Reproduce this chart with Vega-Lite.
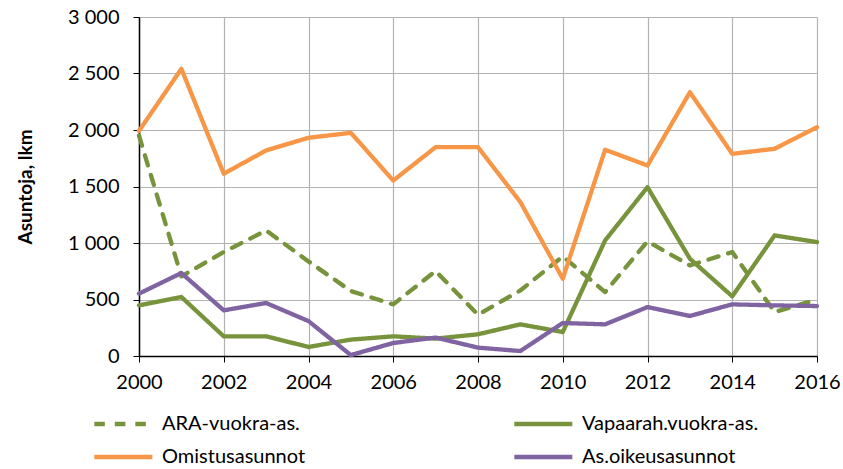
{
  "$schema": "https://vega.github.io/schema/vega-lite/v6.json",
  "width": 678,
  "height": 339,
  "autosize": "none",
  "padding": {"left": 139, "top": 17, "right": 26, "bottom": 113},
  "background": "white",
  "config": {
    "view": {"stroke": null},
    "font": "Lato"
  },
  "datasets": {
    "rows": [
      {"year": 2000, "series": "ARA-vuokra-as.", "value": 1950},
      {"year": 2001, "series": "ARA-vuokra-as.", "value": 705},
      {"year": 2002, "series": "ARA-vuokra-as.", "value": 920},
      {"year": 2003, "series": "ARA-vuokra-as.", "value": 1111},
      {"year": 2004, "series": "ARA-vuokra-as.", "value": 837},
      {"year": 2005, "series": "ARA-vuokra-as.", "value": 575},
      {"year": 2006, "series": "ARA-vuokra-as.", "value": 457},
      {"year": 2007, "series": "ARA-vuokra-as.", "value": 752},
      {"year": 2008, "series": "ARA-vuokra-as.", "value": 365},
      {"year": 2009, "series": "ARA-vuokra-as.", "value": 580},
      {"year": 2010, "series": "ARA-vuokra-as.", "value": 881},
      {"year": 2011, "series": "ARA-vuokra-as.", "value": 566},
      {"year": 2012, "series": "ARA-vuokra-as.", "value": 1014},
      {"year": 2013, "series": "ARA-vuokra-as.", "value": 802},
      {"year": 2014, "series": "ARA-vuokra-as.", "value": 920},
      {"year": 2015, "series": "ARA-vuokra-as.", "value": 389},
      {"year": 2016, "series": "ARA-vuokra-as.", "value": 499},
      {"year": 2000, "series": "Vapaarah.vuokra-as.", "value": 448},
      {"year": 2001, "series": "Vapaarah.vuokra-as.", "value": 522},
      {"year": 2002, "series": "Vapaarah.vuokra-as.", "value": 174},
      {"year": 2003, "series": "Vapaarah.vuokra-as.", "value": 174},
      {"year": 2004, "series": "Vapaarah.vuokra-as.", "value": 80},
      {"year": 2005, "series": "Vapaarah.vuokra-as.", "value": 145},
      {"year": 2006, "series": "Vapaarah.vuokra-as.", "value": 174},
      {"year": 2007, "series": "Vapaarah.vuokra-as.", "value": 154},
      {"year": 2008, "series": "Vapaarah.vuokra-as.", "value": 192},
      {"year": 2009, "series": "Vapaarah.vuokra-as.", "value": 280},
      {"year": 2010, "series": "Vapaarah.vuokra-as.", "value": 212},
      {"year": 2011, "series": "Vapaarah.vuokra-as.", "value": 1023},
      {"year": 2012, "series": "Vapaarah.vuokra-as.", "value": 1494},
      {"year": 2013, "series": "Vapaarah.vuokra-as.", "value": 861},
      {"year": 2014, "series": "Vapaarah.vuokra-as.", "value": 528},
      {"year": 2015, "series": "Vapaarah.vuokra-as.", "value": 1067},
      {"year": 2016, "series": "Vapaarah.vuokra-as.", "value": 1008},
      {"year": 2000, "series": "Omistusasunnot", "value": 1992},
      {"year": 2001, "series": "Omistusasunnot", "value": 2541},
      {"year": 2002, "series": "Omistusasunnot", "value": 1613},
      {"year": 2003, "series": "Omistusasunnot", "value": 1819},
      {"year": 2004, "series": "Omistusasunnot", "value": 1931},
      {"year": 2005, "series": "Omistusasunnot", "value": 1975},
      {"year": 2006, "series": "Omistusasunnot", "value": 1553},
      {"year": 2007, "series": "Omistusasunnot", "value": 1848},
      {"year": 2008, "series": "Omistusasunnot", "value": 1848},
      {"year": 2009, "series": "Omistusasunnot", "value": 1362},
      {"year": 2010, "series": "Omistusasunnot", "value": 684},
      {"year": 2011, "series": "Omistusasunnot", "value": 1825},
      {"year": 2012, "series": "Omistusasunnot", "value": 1686},
      {"year": 2013, "series": "Omistusasunnot", "value": 2334},
      {"year": 2014, "series": "Omistusasunnot", "value": 1789},
      {"year": 2015, "series": "Omistusasunnot", "value": 1834},
      {"year": 2016, "series": "Omistusasunnot", "value": 2025},
      {"year": 2000, "series": "As.oikeusasunnot", "value": 552},
      {"year": 2001, "series": "As.oikeusasunnot", "value": 734},
      {"year": 2002, "series": "As.oikeusasunnot", "value": 404},
      {"year": 2003, "series": "As.oikeusasunnot", "value": 469},
      {"year": 2004, "series": "As.oikeusasunnot", "value": 309},
      {"year": 2005, "series": "As.oikeusasunnot", "value": 8},
      {"year": 2006, "series": "As.oikeusasunnot", "value": 115},
      {"year": 2007, "series": "As.oikeusasunnot", "value": 163},
      {"year": 2008, "series": "As.oikeusasunnot", "value": 74},
      {"year": 2009, "series": "As.oikeusasunnot", "value": 44},
      {"year": 2010, "series": "As.oikeusasunnot", "value": 292},
      {"year": 2011, "series": "As.oikeusasunnot", "value": 280},
      {"year": 2012, "series": "As.oikeusasunnot", "value": 433},
      {"year": 2013, "series": "As.oikeusasunnot", "value": 354},
      {"year": 2014, "series": "As.oikeusasunnot", "value": 457},
      {"year": 2015, "series": "As.oikeusasunnot", "value": 448},
      {"year": 2016, "series": "As.oikeusasunnot", "value": 442}
    ]
  },
  "data": {"name": "rows"},
  "mark": {"type": "line", "strokeWidth": 4.3, "strokeCap": "round", "strokeJoin": "round", "clip": false},
  "encoding": {
    "x": {
      "field": "year",
      "type": "quantitative",
      "scale": {"domain": [2000, 2016], "nice": false, "zero": false},
      "axis": {
        "title": null,
        "values": [2000, 2002, 2004, 2006, 2008, 2010, 2012, 2014, 2016],
        "format": "d",
        "labelFont": "Lato",
        "labelFontSize": 20,
        "labelColor": "#000000",
        "labelPadding": 10,
        "tickSize": 6,
        "tickColor": "#000000",
        "domainColor": "#000000",
        "domainWidth": 1.5,
        "grid": true,
        "gridColor": "#b3b3b3",
        "gridWidth": 1.2,
        "labelFlush": false
      }
    },
    "y": {
      "field": "value",
      "type": "quantitative",
      "scale": {"domain": [0, 3000], "nice": false},
      "axis": {
        "title": "Asuntoja, lkm",
        "titleFont": "Lato",
        "titleFontSize": 19,
        "titleFontWeight": "bold",
        "titleColor": "#000000",
        "titlePadding": 32,
        "values": [0, 500, 1000, 1500, 2000, 2500, 3000],
        "labelExpr": "replace(format(datum.value, ','), ',', ' ')",
        "labelFont": "Lato",
        "labelFontSize": 20,
        "labelColor": "#000000",
        "labelPadding": 14,
        "tickSize": 6,
        "tickColor": "#000000",
        "domainColor": "#000000",
        "domainWidth": 1.5,
        "grid": true,
        "gridColor": "#b3b3b3",
        "gridWidth": 1.2
      }
    },
    "color": {
      "field": "series",
      "type": "nominal",
      "scale": {
        "domain": ["ARA-vuokra-as.", "Vapaarah.vuokra-as.", "Omistusasunnot", "As.oikeusasunnot"],
        "range": ["#77933C", "#77933C", "#F79646", "#8064A2"]
      },
      "legend": {
        "title": null,
        "orient": "none",
        "legendX": -47,
        "legendY": 395,
        "direction": "horizontal",
        "columns": 2,
        "columnPadding": 199,
        "rowPadding": 11,
        "symbolType": "M-1,0H5",
        "symbolSize": 374,
        "symbolStrokeWidth": 4.5,
        "symbolFillColor": "transparent",
        "labelFont": "Lato",
        "labelFontSize": 20,
        "labelColor": "#000000",
        "labelOffset": 46,
        "labelLimit": 300
      }
    },
    "strokeDash": {
      "field": "series",
      "type": "nominal",
      "scale": {
        "domain": ["ARA-vuokra-as.", "Vapaarah.vuokra-as.", "Omistusasunnot", "As.oikeusasunnot"],
        "range": [[10.5, 10], [1, 0], [1, 0], [1, 0]]
      },
      "legend": null
    }
  }
}
